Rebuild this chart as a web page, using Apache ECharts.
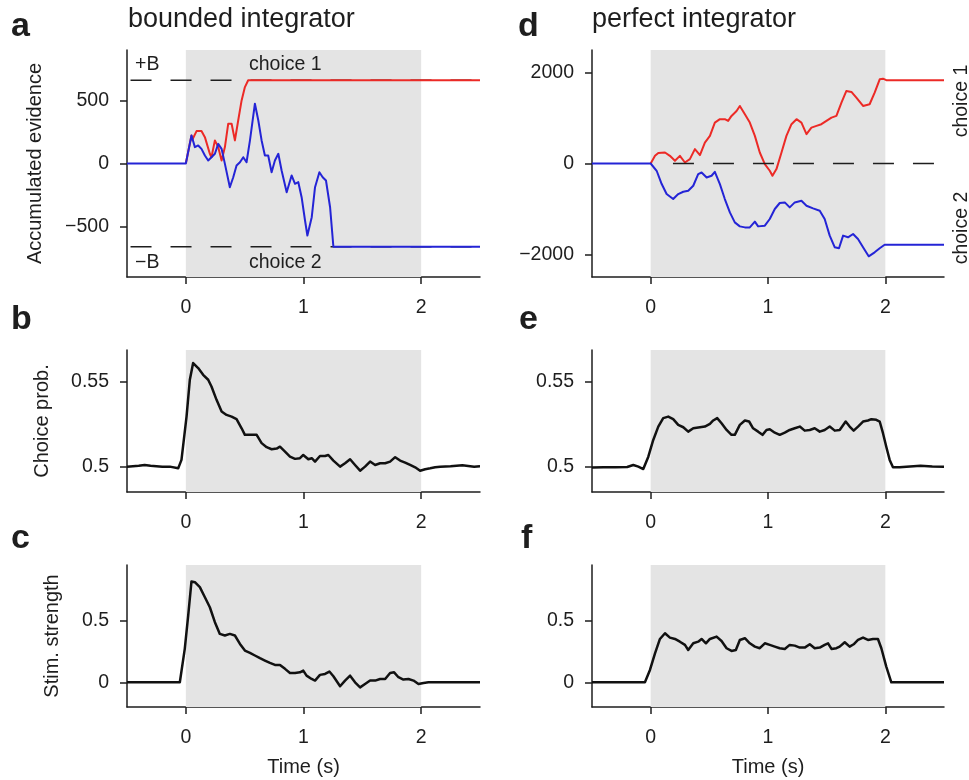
<!DOCTYPE html>
<html>
<head>
<meta charset="utf-8">
<script src="https://cdn.jsdelivr.net/npm/echarts@6/dist/echarts.min.js"></script>
<style>
  html, body { margin: 0; background: #fff; }
  #chart { width: 969px; height: 780px; }
</style>
</head>
<body>
<div id="chart"></div>
<script>
const FONT = '"Liberation Sans", Arial, Helvetica, sans-serif'
const INK = '#1e1e1e'
const SHADE = '#e4e4e4'
const RED = '#ec2a26'
const BLUE = '#2424d6'

const timeTicks = [0, 1, 2]
const stimWindow = [0, 2]
const bound = 660

// a: bounded integrator, accumulated evidence
const aRedT = [0, 0.048, 0.055, 0.091, 0.133, 0.162, 0.204, 0.218, 0.247, 0.275, 0.304, 0.332, 0.36, 0.389, 0.417, 0.445, 0.474, 0.502, 0.53, 2.5]
const aRedV = [0, 222, 188, 257, 257, 209, 77, 50, 183, 130, 24, 130, 315, 315, 183, 341, 500, 606, 660, 660]
const aBlueT = [-0.5, 0, 0.048, 0.077, 0.105, 0.133, 0.162, 0.19, 0.218, 0.247, 0.275, 0.304, 0.332, 0.374, 0.403, 0.431, 0.46, 0.488, 0.516, 0.545, 0.587, 0.616, 0.644, 0.672, 0.7, 0.729, 0.757, 0.786, 0.814, 0.857, 0.899, 0.928, 0.956, 0.984, 1.013, 1.033, 1.07, 1.098, 1.135, 1.163, 1.191, 1.226, 1.254, 2.5]
const aBlueV = [0, 0, 222, 130, 143, 116, 63, 24, 50, 77, 156, 116, -3, -188, -109, -16, 10, 50, 10, 183, 474, 341, 183, 63, 63, -69, 24, 77, -56, -228, -95, -161, -148, -267, -452, -571, -426, -188, -69, -109, -135, -347, -660, -660]
const aDashT = [-0.47, 2.5]

// b: bounded integrator, choice probability
const bT = [-0.5, -0.4, -0.35, -0.3, -0.2, -0.136, -0.065, -0.037, 0.006, 0.034, 0.062, 0.105, 0.147, 0.19, 0.218, 0.261, 0.304, 0.346, 0.389, 0.431, 0.474, 0.502, 0.559, 0.602, 0.644, 0.687, 0.729, 0.772, 0.8, 0.843, 0.885, 0.928, 0.97, 0.998, 1.041, 1.07, 1.098, 1.14, 1.183, 1.211, 1.254, 1.311, 1.353, 1.396, 1.438, 1.481, 1.523, 1.566, 1.609, 1.651, 1.694, 1.736, 1.779, 1.821, 1.864, 1.906, 1.949, 1.991, 2.034, 2.077, 2.119, 2.162, 2.25, 2.35, 2.45, 2.5]
const bV = [0.5, 0.5005, 0.501, 0.5005, 0.5, 0.5, 0.499, 0.504, 0.5296, 0.5514, 0.5613, 0.5583, 0.5543, 0.5514, 0.5474, 0.5395, 0.5326, 0.5306, 0.5296, 0.5281, 0.5227, 0.5188, 0.5188, 0.5188, 0.5139, 0.5115, 0.5103, 0.5107, 0.5118, 0.5089, 0.5059, 0.5046, 0.505, 0.5069, 0.5044, 0.505, 0.503, 0.5063, 0.5063, 0.5069, 0.5036, 0.5, 0.502, 0.5044, 0.501, 0.4976, 0.5, 0.503, 0.501, 0.502, 0.502, 0.503, 0.5056, 0.5036, 0.5024, 0.501, 0.4996, 0.4976, 0.4985, 0.499, 0.4996, 0.5, 0.5003, 0.5008, 0.5, 0.5002]

// c: bounded integrator, stimulus strength
const cT = [-0.5, -0.051, -0.009, 0.02, 0.048, 0.077, 0.119, 0.162, 0.204, 0.247, 0.289, 0.332, 0.374, 0.417, 0.46, 0.502, 0.545, 0.587, 0.63, 0.672, 0.715, 0.757, 0.8, 0.843, 0.885, 0.928, 0.97, 0.998, 1.026, 1.069, 1.098, 1.14, 1.183, 1.22, 1.254, 1.311, 1.353, 1.396, 1.438, 1.481, 1.523, 1.566, 1.609, 1.651, 1.694, 1.736, 1.77, 1.807, 1.849, 1.892, 1.935, 1.977, 2.02, 2.062, 2.5]
const cV = [0, 0, 0.271, 0.541, 0.817, 0.811, 0.771, 0.689, 0.608, 0.487, 0.392, 0.379, 0.392, 0.379, 0.311, 0.257, 0.238, 0.217, 0.195, 0.176, 0.157, 0.141, 0.141, 0.109, 0.076, 0.076, 0.081, 0.095, 0.054, 0.027, 0.014, 0.06, 0.068, 0.087, 0.049, -0.032, 0.014, 0.054, 0, -0.041, -0.014, 0.014, 0.014, 0.027, 0.027, 0.076, 0.081, 0.041, 0.022, 0.027, 0.014, -0.014, -0.005, 0, 0]

// d: perfect integrator, accumulated evidence
const dRedT = [0, 0.017, 0.037, 0.065, 0.122, 0.164, 0.207, 0.249, 0.292, 0.334, 0.377, 0.42, 0.462, 0.505, 0.547, 0.59, 0.632, 0.66, 0.689, 0.732, 0.76, 0.803, 0.845, 0.888, 0.93, 0.973, 1.015, 1.038, 1.072, 1.115, 1.157, 1.2, 1.243, 1.285, 1.328, 1.37, 1.413, 1.455, 1.498, 1.541, 1.583, 1.626, 1.668, 1.711, 1.753, 1.81, 1.866, 1.909, 1.952, 1.98, 2.008, 2.5]
const dRedV = [0, 30, 169, 229, 242, 169, 59, 169, 22, 97, 316, 185, 462, 609, 901, 976, 976, 938, 1048, 1158, 1268, 1085, 901, 609, 242, -13, -160, -270, -123, 242, 609, 866, 976, 901, 646, 791, 829, 866, 938, 1011, 1048, 1341, 1598, 1576, 1451, 1268, 1305, 1561, 1855, 1868, 1835, 1835]
const dBlueT = [-0.5, 0, 0.017, 0.051, 0.094, 0.136, 0.192, 0.235, 0.278, 0.32, 0.363, 0.405, 0.434, 0.477, 0.519, 0.547, 0.59, 0.632, 0.675, 0.717, 0.76, 0.803, 0.845, 0.888, 0.916, 0.973, 1.015, 1.058, 1.1, 1.143, 1.185, 1.228, 1.285, 1.328, 1.384, 1.441, 1.483, 1.526, 1.569, 1.605, 1.64, 1.682, 1.725, 1.767, 1.81, 1.858, 1.909, 1.952, 1.994, 2.5]
const dBlueV = [0, 0, 40, -160, -453, -673, -783, -673, -622, -600, -490, -233, -198, -308, -270, -182, -453, -783, -1077, -1297, -1385, -1407, -1407, -1281, -1385, -1369, -1222, -1002, -870, -857, -967, -857, -820, -930, -989, -1040, -1222, -1589, -1846, -1868, -1589, -1626, -1552, -1662, -1846, -2044, -1956, -1868, -1790, -1790]
const dDashT = [0.19, 2.5]

// e: perfect integrator, choice probability
const eT = [-0.5, -0.4, -0.3, -0.2, -0.148, -0.105, -0.063, -0.02, 0.022, 0.065, 0.107, 0.15, 0.192, 0.235, 0.278, 0.32, 0.363, 0.42, 0.462, 0.505, 0.533, 0.567, 0.604, 0.647, 0.689, 0.717, 0.76, 0.803, 0.839, 0.873, 0.916, 0.953, 0.987, 1.015, 1.058, 1.1, 1.143, 1.185, 1.228, 1.271, 1.313, 1.356, 1.398, 1.441, 1.483, 1.526, 1.569, 1.611, 1.662, 1.696, 1.73, 1.767, 1.81, 1.852, 1.881, 1.923, 1.952, 1.98, 2.008, 2.037, 2.065, 2.122, 2.18, 2.3, 2.4, 2.5]
const eV = [0.4995, 0.4997, 0.4996, 0.4998, 0.501, 0.5, 0.4986, 0.5059, 0.5158, 0.5237, 0.5287, 0.5296, 0.5281, 0.5247, 0.5233, 0.5207, 0.5227, 0.5233, 0.5237, 0.5253, 0.5273, 0.5287, 0.5257, 0.5217, 0.5188, 0.5188, 0.5247, 0.5273, 0.5267, 0.5227, 0.5207, 0.5188, 0.5217, 0.5221, 0.5201, 0.5188, 0.5201, 0.5217, 0.5227, 0.5237, 0.5213, 0.5217, 0.5227, 0.5207, 0.5217, 0.5237, 0.5213, 0.5217, 0.5267, 0.5237, 0.5213, 0.5237, 0.5267, 0.5273, 0.5281, 0.5277, 0.5267, 0.5198, 0.5118, 0.504, 0.4996, 0.4996, 0.5, 0.5005, 0.5001, 0.5]

// f: perfect integrator, stimulus strength
const fT = [-0.5, -0.049, -0.006, 0.037, 0.079, 0.122, 0.164, 0.207, 0.249, 0.292, 0.32, 0.363, 0.405, 0.434, 0.471, 0.505, 0.562, 0.604, 0.647, 0.689, 0.726, 0.76, 0.803, 0.845, 0.888, 0.93, 0.973, 1.015, 1.058, 1.1, 1.143, 1.185, 1.228, 1.271, 1.313, 1.356, 1.398, 1.441, 1.483, 1.512, 1.541, 1.583, 1.611, 1.654, 1.696, 1.73, 1.767, 1.81, 1.852, 1.895, 1.937, 1.966, 2.008, 2.051, 2.5]
const fV = [0, 0, 0.1, 0.235, 0.351, 0.397, 0.362, 0.351, 0.329, 0.303, 0.262, 0.316, 0.329, 0.351, 0.316, 0.351, 0.37, 0.335, 0.276, 0.254, 0.262, 0.343, 0.357, 0.316, 0.289, 0.276, 0.316, 0.303, 0.289, 0.276, 0.27, 0.303, 0.297, 0.281, 0.281, 0.308, 0.276, 0.281, 0.303, 0.316, 0.27, 0.276, 0.289, 0.324, 0.289, 0.308, 0.343, 0.362, 0.343, 0.351, 0.351, 0.276, 0.127, 0, 0]

const pair = (ts, vs) => ts.map((t, i) => [t, vs[i]])
const minus = v => String(v).replace('-', '\u2212')

const grids = [
  { left: 127, top: 50, width: 353, height: 227 },
  { left: 127, top: 350, width: 353, height: 142 },
  { left: 127, top: 565, width: 353, height: 142 },
  { left: 592, top: 50, width: 352, height: 227 },
  { left: 592, top: 350, width: 352, height: 142 },
  { left: 592, top: 565, width: 352, height: 142 }
]
const yRanges = [[-900, 900], [0.485, 0.569], [-0.2, 0.95], [-2500, 2500], [0.485, 0.569], [-0.2, 0.95]]
const yTicks = [[-500, 0, 500], [0.5, 0.55], [0, 0.5], [-2000, 0, 2000], [0.5, 0.55], [0, 0.5]]
const yNames = ['Accumulated evidence', 'Choice prob.', 'Stim. strength', '', '', '']
const yNameGaps = [82, 75, 65, 0, 0, 0]

const axisLine = { show: true, onZero: false, lineStyle: { color: INK, width: 1.5 } }
const labelStyle = { fontFamily: FONT, fontSize: 19.5, color: INK }

const xAxis = grids.map((g, i) => ({
  type: 'value', gridIndex: i, min: -0.5, max: 2.5,
  name: i === 2 || i === 5 ? 'Time (s)' : '',
  nameLocation: 'middle', nameGap: 50,
  nameTextStyle: { fontFamily: FONT, fontSize: 20, color: INK },
  axisLine,
  axisTick: { show: true, length: 7, customValues: timeTicks, lineStyle: { color: INK, width: 1.5 } },
  axisLabel: { ...labelStyle, margin: 21, customValues: timeTicks },
  splitLine: { show: false }
}))

const yAxis = grids.map((g, i) => ({
  type: 'value', gridIndex: i, min: yRanges[i][0], max: yRanges[i][1],
  name: yNames[i], nameLocation: 'middle', nameGap: yNameGaps[i],
  nameTextStyle: { fontFamily: FONT, fontSize: 20, color: INK },
  axisLine,
  axisTick: { show: true, length: 7, customValues: yTicks[i], lineStyle: { color: INK, width: 1.5 } },
  axisLabel: { ...labelStyle, margin: 18, customValues: yTicks[i], formatter: minus },
  splitLine: { show: false }
}))

const shade = i => ({
  type: 'line', xAxisIndex: i, yAxisIndex: i, data: [], z: 1, silent: true,
  markArea: {
    silent: true, itemStyle: { color: SHADE },
    data: [[{ xAxis: stimWindow[0] }, { xAxis: stimWindow[1] }]]
  }
})
const trace = (i, data, color, width, z) => ({
  type: 'line', xAxisIndex: i, yAxisIndex: i, data, z,
  symbol: 'none', silent: true,
  lineStyle: { color, width, join: 'round' }
})
const dashed = (i, ts, level, z) => ({
  type: 'line', xAxisIndex: i, yAxisIndex: i, z,
  data: ts.map(t => [t, level]),
  symbol: 'none', silent: true,
  lineStyle: { color: INK, width: 1.6, type: [21, 19] }
})

const series = [
  shade(0),
  dashed(0, aDashT, bound, 2),
  dashed(0, aDashT, -bound, 2),
  trace(0, pair(aRedT, aRedV), RED, 2, 3),
  trace(0, pair(aBlueT, aBlueV), BLUE, 2, 4),
  shade(1),
  trace(1, pair(bT, bV), '#111', 2.5, 3),
  shade(2),
  trace(2, pair(cT, cV), '#111', 2.5, 3),
  shade(3),
  trace(3, pair(dRedT, dRedV), RED, 2, 3),
  trace(3, pair(dBlueT, dBlueV), BLUE, 2, 3),
  dashed(3, dDashT, 0, 4),
  shade(4),
  trace(4, pair(eT, eV), '#111', 2.5, 3),
  shade(5),
  trace(5, pair(fT, fV), '#111', 2.5, 3)
]

const txt = (text, x, y, size, opts = {}) => ({
  type: 'text', x, y, rotation: opts.rotation || 0, z: 10,
  style: {
    text, fill: INK, font: `${opts.bold ? 'bold ' : ''}${size}px ${FONT}`,
    textAlign: opts.align || 'left', textVerticalAlign: 'middle'
  }
})

const graphic = [
  txt('a', 11, 27, 34, { bold: true }),
  txt('bounded integrator', 128, 20, 27),
  txt('b', 11, 320, 34, { bold: true }),
  txt('c', 11, 539, 34, { bold: true }),
  txt('d', 518, 27, 34, { bold: true }),
  txt('perfect integrator', 592, 20, 27),
  txt('e', 519, 320, 34, { bold: true }),
  txt('f', 521, 539, 34, { bold: true }),
  txt('+B', 135, 65, 19.5),
  txt('\u2212B', 135, 263, 19.5),
  txt('choice 1', 249, 65, 19.5),
  txt('choice 2', 249, 263, 19.5),
  txt('choice 1', 962, 101, 19.5, { align: 'center', rotation: Math.PI / 2 }),
  txt('choice 2', 962, 228, 19.5, { align: 'center', rotation: Math.PI / 2 })
]

const chart = echarts.init(document.getElementById('chart'))
chart.setOption({
  animation: false,
  backgroundColor: '#fff',
  grid: grids,
  xAxis,
  yAxis,
  series,
  graphic
})
</script>
</body>
</html>
